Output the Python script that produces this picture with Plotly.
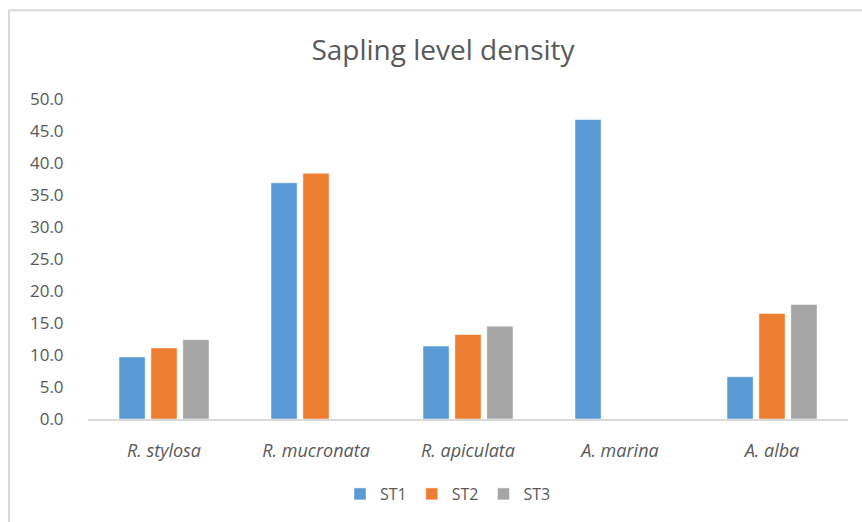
import plotly.graph_objects as go

categories = ["R. stylosa", "R. mucronata", "R. apiculata", "A. marina", "A. alba"]
st1 = [9.7, 36.9, 11.4, 46.8, 6.6]
st2 = [11.1, 38.4, 13.2, None, 16.5]
st3 = [12.4, None, 14.5, None, 17.9]
series_names = ["ST1", "ST2", "ST3"]
colors = ["#5B9BD5", "#ED7D31", "#A5A5A5"]
y_ticks = [0, 5, 10, 15, 20, 25, 30, 35, 40, 45, 50]

cat_labels = [f"<i>{c}</i>" for c in categories]

fig = go.Figure()
for name, vals, col in zip(series_names, [st1, st2, st3], colors):
    fig.add_trace(go.Bar(
        x=cat_labels, y=vals, name=name,
        marker=dict(color=col, line=dict(color="rgba(255,255,255,0.5)", width=1)),
    ))

W, H = 862, 522
ml, mr, mt, mb = 88, 14, 99, 102
pw = W - ml - mr
ph = H - mt - mb

def px_x(p):
    return (p - ml) / pw

def px_y(p):
    return (H - mb - p) / ph

fig.add_shape(type="rect", xref="paper", yref="paper",
              x0=px_x(9), x1=px_x(W + 20), y0=px_y(H + 20), y1=px_y(10),
              line=dict(color="#D9D9D9", width=2), fillcolor="rgba(0,0,0,0)", layer="below")

fig.update_layout(
    width=W, height=H,
    margin=dict(l=ml, r=mr, t=mt, b=mb),
    paper_bgcolor="white", plot_bgcolor="white",
    font=dict(family="Open Sans", color="#595959", size=16),
    title=dict(text="Sapling level density", x=(443 / W), xanchor="center",
               y=1 - 50 / H, yanchor="middle",
               font=dict(family="Open Sans", size=28, color="#595959")),
    barmode="group", bargap=0.37, bargroupgap=0.18,
    showlegend=True,
    legend=dict(orientation="h", x=px_x(448), xanchor="center",
                y=px_y(494), yanchor="middle",
                font=dict(size=16, color="#595959"),
                itemwidth=30, traceorder="normal"),
    xaxis=dict(showline=True, linecolor="#D9D9D9", linewidth=1.5,
               ticks="outside", ticklen=15, tickcolor="rgba(0,0,0,0)",
               tickfont=dict(size=18, color="#595959"), showgrid=False),
    yaxis=dict(range=[0, 50], tickvals=y_ticks,
               ticktext=[f"{v:.1f}" for v in y_ticks],
               showgrid=False, zeroline=False, showline=False,
               ticks="outside", ticklen=20, tickcolor="rgba(0,0,0,0)",
               tickfont=dict(size=17, color="#595959")),
)

fig.write_html("out.html", config={"displayModeBar": False},
               post_script="document.body.style.margin='0';document.body.style.overflow='hidden';")
